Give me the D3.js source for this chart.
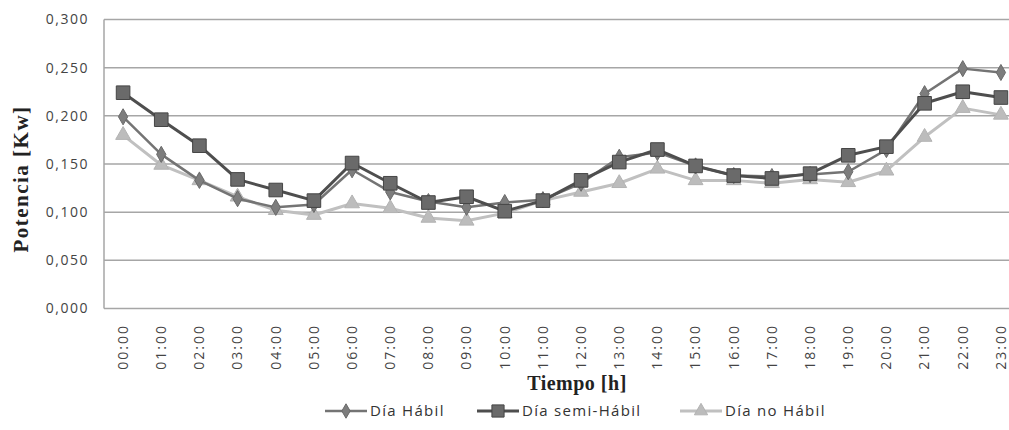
<!DOCTYPE html>
<html>
<head>
<meta charset="utf-8">
<script src="https://cdn.jsdelivr.net/npm/d3@7"></script>
<style>
  body { margin: 0; background: #fff; }
  svg { display: block; }
</style>
</head>
<body>
<div id="chart"></div>
<script>
var hours = ["00:00","01:00","02:00","03:00","04:00","05:00","06:00","07:00","08:00","09:00","10:00","11:00",
             "12:00","13:00","14:00","15:00","16:00","17:00","18:00","19:00","20:00","21:00","22:00","23:00"];

var diaHabil = [0.199,0.160,0.133,0.114,0.105,0.108,0.144,0.121,0.111,0.105,0.110,0.113,
                0.130,0.157,0.162,0.148,0.138,0.137,0.139,0.142,0.165,0.223,0.249,0.245];
var diaSemiHabil = [0.224,0.196,0.169,0.134,0.123,0.112,0.151,0.130,0.110,0.116,0.101,0.112,
                    0.133,0.152,0.165,0.148,0.138,0.135,0.140,0.159,0.168,0.213,0.225,0.219];
var diaNoHabil = [0.180,0.149,0.133,0.116,0.102,0.097,0.109,0.104,0.094,0.091,0.099,0.112,
                  0.121,0.130,0.145,0.133,0.133,0.130,0.134,0.131,0.143,0.178,0.208,0.201];

var yTicks = [0, 0.05, 0.1, 0.15, 0.2, 0.25, 0.3];

var series = [
  {name: "Día Hábil", values: diaHabil, line: "#747474", fill: "#7d7d7d", stroke: "#6a6a6a", width: 2.5, shape: d3.symbolDiamond, size: 75},
  {name: "Día semi-Hábil", values: diaSemiHabil, line: "#4e4e4e", fill: "#6a6a6a", stroke: "#454545", width: 3, shape: d3.symbolSquare, size: 185},
  {name: "Día no Hábil", values: diaNoHabil, line: "#c0c0c0", fill: "#bcbcbc", stroke: "#b3b3b3", width: 3, shape: d3.symbolTriangle, size: 95}
];

var W = 1009, H = 430;
var m = {left: 104, right: 1020, top: 19.5, bottom: 308.5};

var svg = d3.select("#chart").append("svg")
  .attr("width", W)
  .attr("height", H);

var x = d3.scaleBand().domain(hours).range([m.left, m.right]).padding(0);
var y = d3.scaleLinear().domain([0, 0.3]).range([m.bottom, m.top]);
var fmt = function(d) { return d3.format(".3f")(d).replace(".", ","); };

// gridlines
svg.append("g")
  .selectAll("line")
  .data(yTicks)
  .join("line")
    .attr("x1", m.left).attr("x2", m.right)
    .attr("y1", d => y(d)).attr("y2", d => y(d))
    .attr("stroke", "#a6a6a6")
    .attr("stroke-width", 1.5);

// left axis line
svg.append("line")
  .attr("x1", m.left).attr("x2", m.left)
  .attr("y1", m.top).attr("y2", m.bottom)
  .attr("stroke", "#a6a6a6")
  .attr("stroke-width", 1.5);

// y tick labels
svg.append("g")
  .selectAll("text")
  .data(yTicks)
  .join("text")
    .attr("x", 89)
    .attr("y", d => y(d))
    .attr("dy", "0.35em")
    .attr("text-anchor", "end")
    .attr("font-family", "Open Sans")
    .attr("font-size", 14)
    .attr("letter-spacing", 1.5)
    .attr("fill", "#444")
    .text(fmt);

// x tick labels
svg.append("g")
  .selectAll("text")
  .data(hours)
  .join("text")
    .attr("transform", d => "translate(" + (x(d) + x.bandwidth() / 2) + ",324) rotate(-90)")
    .attr("dy", "0.35em")
    .attr("text-anchor", "end")
    .attr("font-family", "Open Sans")
    .attr("font-size", 14)
    .attr("letter-spacing", 2)
    .attr("fill", "#444")
    .text(d => d);

// axis titles
svg.append("text")
  .attr("transform", "translate(28,179) rotate(-90)")
  .attr("text-anchor", "middle")
  .attr("font-family", "Liberation Serif")
  .attr("font-weight", "bold")
  .attr("font-size", 21)
  .attr("letter-spacing", 1.5)
  .attr("fill", "#222")
  .text("Potencia [Kw]");

svg.append("text")
  .attr("x", 577)
  .attr("y", 390)
  .attr("text-anchor", "middle")
  .attr("font-family", "Liberation Serif")
  .attr("font-weight", "bold")
  .attr("font-size", 20)
  .attr("letter-spacing", 0.5)
  .attr("fill", "#222")
  .text("Tiempo [h]");

// lines + markers
var line = d3.line()
  .x((d, i) => x(hours[i]) + x.bandwidth() / 2)
  .y(d => y(d));

var order = [2, 0, 1];
order.forEach(function(k) {
  var s = series[k];
  var g = svg.append("g");
  g.append("path")
    .datum(s.values)
    .attr("d", line)
    .attr("fill", "none")
    .attr("stroke", s.line)
    .attr("stroke-width", s.width)
    .attr("stroke-linejoin", "round");
  g.selectAll("path.m")
    .data(s.values)
    .join("path")
      .attr("class", "m")
      .attr("transform", (d, i) => "translate(" + (x(hours[i]) + x.bandwidth() / 2) + "," + y(d) + ")")
      .attr("d", d3.symbol().type(s.shape).size(s.size))
      .attr("fill", s.fill)
      .attr("stroke", s.stroke)
      .attr("stroke-width", 1);
});

// legend
var legendX = [325, 477, 680];
var legend = svg.append("g")
  .selectAll("g")
  .data(series)
  .join("g")
    .attr("transform", (d, i) => "translate(" + legendX[i] + ",411)");

legend.append("line")
  .attr("x1", 0).attr("x2", 42)
  .attr("stroke", d => d.line)
  .attr("stroke-width", d => d.width);

legend.append("path")
  .attr("transform", "translate(21,0)")
  .attr("d", d => d3.symbol().type(d.shape).size(d.size * 0.8)())
  .attr("fill", d => d.fill)
  .attr("stroke", d => d.stroke);

legend.append("text")
  .attr("x", 45)
  .attr("dy", "0.35em")
  .attr("font-family", "Open Sans")
  .attr("font-size", 15)
  .attr("letter-spacing", 1.3)
  .attr("fill", "#333")
  .text(d => d.name);
</script>
</body>
</html>
